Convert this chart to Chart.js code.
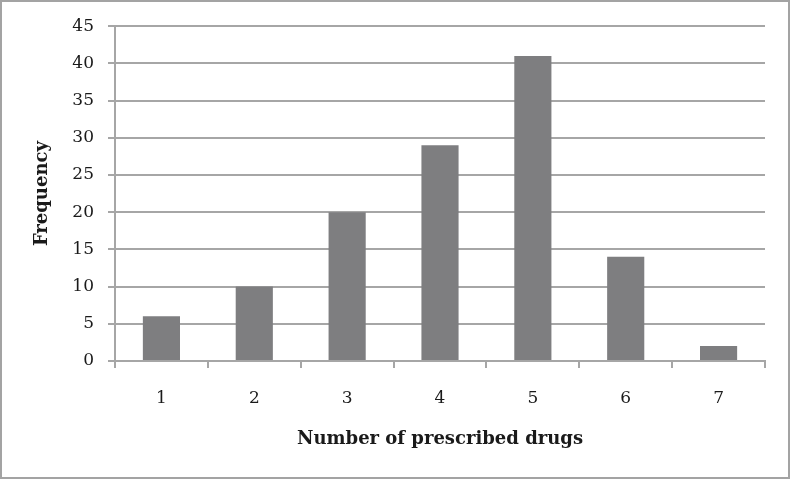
<!DOCTYPE html>
<html>
<head>
<meta charset="utf-8">
<script src="https://cdn.jsdelivr.net/npm/chart.js@4"></script>
<style>
  html, body { margin: 0; padding: 0; background: #fff; }
  .frame {
    position: absolute; left: 0; top: 0;
    width: 790px; height: 479px;
    box-sizing: border-box;
    border: 2px solid #a3a3a3;
  }
  canvas { display: block; }
</style>
</head>
<body>
<div class="frame"><canvas id="chart" width="786" height="475"></canvas></div>
<script>
const categories = ["1", "2", "3", "4", "5", "6", "7"];
const frequencies = [6, 10, 20, 29, 41, 14, 2];
const yMax = 45;
const yStep = 5;

const serif = "'DejaVu Serif', 'Liberation Serif', serif";
const gridColor = "#a6a6a6";
const textColor = "#1a1a1a";

new Chart(document.getElementById("chart"), {
  type: "bar",
  data: {
    labels: categories,
    datasets: [
      {
        label: "Frequency",
        data: frequencies,
        backgroundColor: "#7e7e80",
        borderWidth: 0,
        categoryPercentage: 1,
        barPercentage: 0.4,
      },
    ],
  },
  options: {
    responsive: false,
    animation: false,
    layout: { padding: { left: 0, right: 23, top: 23, bottom: 0 } },
    plugins: {
      legend: { display: false },
      tooltip: { enabled: false },
    },
    scales: {
      x: {
        grid: {
          offset: true,
          drawOnChartArea: false,
          drawTicks: true,
          tickLength: 7,
          color: gridColor,
          lineWidth: 2,
        },
        border: { color: gridColor, width: 2 },
        ticks: {
          color: textColor,
          padding: 20,
          font: { family: serif, size: 17 },
        },
        title: {
          display: true,
          text: "Number of prescribed drugs",
          color: textColor,
          font: { family: serif, size: 18, weight: "bold" },
          padding: { top: 0, bottom: 27 },
        },
        afterFit: (scale) => {
          scale.height = 116;
        },
      },
      y: {
        min: 0,
        max: yMax,
        ticks: {
          stepSize: yStep,
          color: textColor,
          padding: 14,
          font: { family: serif, size: 17 },
        },
        grid: {
          color: gridColor,
          lineWidth: 2,
          tickLength: 7,
        },
        border: { color: gridColor, width: 2 },
        title: {
          display: true,
          text: "Frequency",
          color: textColor,
          font: { family: serif, size: 18, weight: "bold" },
          padding: { top: 30, bottom: 0 },
        },
        afterFit: (scale) => {
          scale.width = 113;
        },
      },
    },
  },
});
</script>
</body>
</html>
